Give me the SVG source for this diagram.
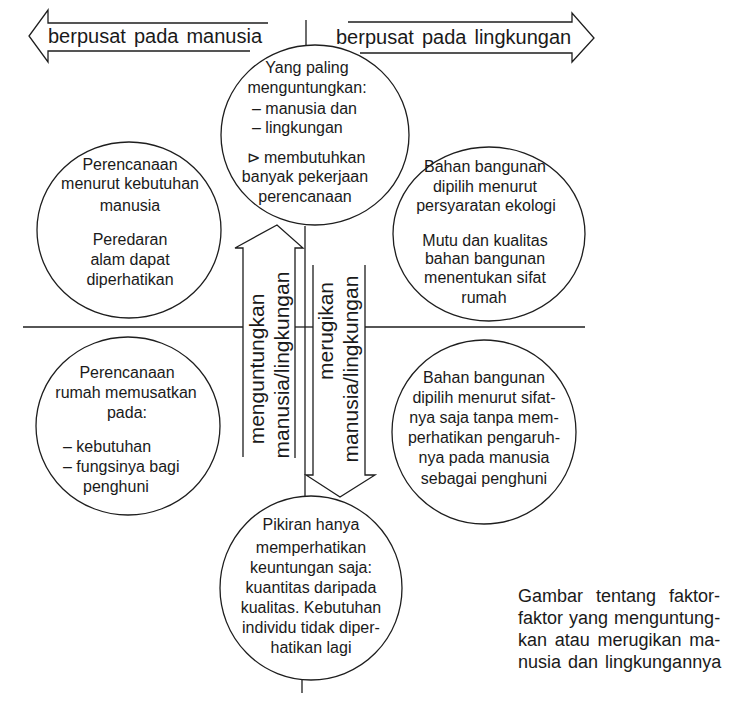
<svg xmlns="http://www.w3.org/2000/svg" width="744" height="701" viewBox="0 0 744 701">
<style>
.ln{fill:none;stroke:#1e1e1e;stroke-width:1.3;stroke-linejoin:miter}
.c{fill:#fff;stroke:#1e1e1e;stroke-width:1.3}
text{font-family:"Liberation Sans",Arial,sans-serif;fill:#1a1a1a}
.t{font-size:16px;text-anchor:middle}
.l{font-size:16px}
.big{font-size:20px;word-spacing:2.5px}
.v{font-size:21px;text-anchor:middle}
.cap{font-size:18px}
</style>
<rect width="744" height="701" fill="#fff"/>
<g id="connectors">
<line class="ln" x1="306" y1="20" x2="306" y2="45"/>
<line class="ln" x1="305" y1="226" x2="305" y2="497"/>
<line class="ln" x1="302" y1="680" x2="302" y2="693"/>
<line class="ln" x1="23" y1="327" x2="243" y2="327"/>
<line class="ln" x1="295" y1="327" x2="313" y2="327"/>
<line class="ln" x1="365" y1="327" x2="585" y2="327"/>
</g>
<g id="arrow-manusia">
<polyline class="ln" points="268,23 48,23 48,10 29,36 48,62 48,51 250,51"/>
<text class="big" x="48" y="43">berpusat pada manusia</text>
</g>
<g id="arrow-lingkungan">
<polyline class="ln" points="348,22 572,22 572,13 594,38 572,62 572,53 360,53"/>
<text class="big" x="336" y="44">berpusat pada lingkungan</text>
</g>
<g id="node-top">
<ellipse class="c" cx="315" cy="135" rx="94" ry="90"/>
<text class="t" x="307" y="73">Yang paling</text>
<text class="t" x="307" y="93">menguntungkan:</text>
<text class="l" x="252" y="114">– manusia dan</text>
<text class="l" x="252" y="133">– lingkungan</text>
<text class="t" x="306" y="163">⊳ membutuhkan</text>
<text class="t" x="305" y="182">banyak pekerjaan</text>
<text class="t" x="305" y="202">perencanaan</text>
</g>
<g id="node-left-top">
<ellipse class="c" cx="129" cy="230" rx="92" ry="88"/>
<text class="t" x="130" y="170">Perencanaan</text>
<text class="t" x="130" y="189">menurut kebutuhan</text>
<text class="t" x="130" y="211">manusia</text>
<text class="t" x="130" y="245">Peredaran</text>
<text class="t" x="130" y="265">alam dapat</text>
<text class="t" x="130" y="285">diperhatikan</text>
</g>
<g id="node-right-top">
<ellipse class="c" cx="489" cy="234" rx="96" ry="87"/>
<text class="t" x="485" y="172">Bahan bangunan</text>
<text class="t" x="485" y="192">dipilih menurut</text>
<text class="t" x="486" y="211">persyaratan ekologi</text>
<text class="t" x="485" y="246">Mutu dan kualitas</text>
<text class="t" x="485" y="264">bahan bangunan</text>
<text class="t" x="485" y="283">menentukan sifat</text>
<text class="t" x="484" y="303">rumah</text>
</g>
<g id="node-left-bottom">
<ellipse class="c" cx="128" cy="426" rx="92" ry="89"/>
<text class="t" x="127" y="378">Perencanaan</text>
<text class="t" x="126" y="398">rumah memusatkan</text>
<text class="t" x="127" y="418">pada:</text>
<text class="l" x="63" y="452">– kebutuhan</text>
<text class="l" x="63" y="472">– fungsinya bagi</text>
<text class="l" x="83" y="492">penghuni</text>
</g>
<g id="node-right-bottom">
<ellipse class="c" cx="484" cy="432" rx="92" ry="92"/>
<text class="t" x="484" y="383">Bahan bangunan</text>
<text class="t" x="484" y="403">dipilih menurut sifat-</text>
<text class="t" x="484" y="423">nya saja tanpa mem-</text>
<text class="t" x="484" y="443">perhatikan pengaruh-</text>
<text class="t" x="484" y="463">nya pada manusia</text>
<text class="t" x="484" y="484">sebagai penghuni</text>
</g>
<g id="node-bottom">
<ellipse class="c" cx="311" cy="588" rx="91" ry="92"/>
<text class="t" x="311" y="530">Pikiran hanya</text>
<text class="t" x="311" y="553">memperhatikan</text>
<text class="t" x="311" y="573">keuntungan saja:</text>
<text class="t" x="311" y="593">kuantitas daripada</text>
<text class="t" x="311" y="613">kualitas. Kebutuhan</text>
<text class="t" x="311" y="633">individu tidak diper-</text>
<text class="t" x="311" y="653">hatikan lagi</text>
</g>
<g id="arrow-menguntungkan">
<polyline class="ln" points="243,457 243,248 235,248 277,225 303,248 295,248 295,458"/>
<text class="v" transform="translate(264,369) rotate(-90)">menguntungkan</text>
<text class="v" transform="translate(289,365) rotate(-90)">manusia/lingkungan</text>
</g>
<g id="arrow-merugikan">
<polyline class="ln" points="313,265 313,475 306,475 340,497 375,475 365,475 365,265"/>
<text class="v" transform="translate(333,331) rotate(-90)">merugikan</text>
<text class="v" transform="translate(358,369) rotate(-90)">manusia/lingkungan</text>
</g>
<g id="caption">
<text class="cap" x="518" y="602" word-spacing="8">Gambar tentang faktor-</text>
<text class="cap" x="518" y="624" word-spacing="1">faktor yang menguntung-</text>
<text class="cap" x="518" y="646" word-spacing="2.7">kan atau merugikan ma-</text>
<text class="cap" x="518" y="668" word-spacing="2">nusia dan lingkungannya</text>
</g>
</svg>
